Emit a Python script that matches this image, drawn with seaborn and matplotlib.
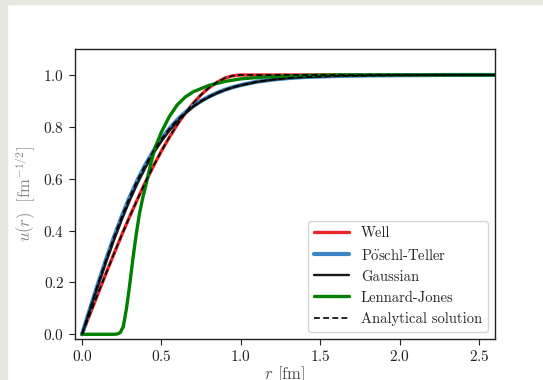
import matplotlib
matplotlib.use('Agg')
import matplotlib.pyplot as plt
import seaborn as sns
from matplotlib.patches import Rectangle

# radial grid (fm) and wave functions
r = [0.0, 0.05, 0.1, 0.15, 0.2, 0.25, 0.3, 0.35, 0.4, 0.45, 0.5, 0.55, 0.6, 0.65,
     0.7, 0.75, 0.8, 0.85, 0.9, 0.95, 1.0, 1.1, 1.2, 1.3, 1.4, 1.6, 1.8, 2.0, 2.3, 2.6]

u_well = [0.0, 0.078, 0.156, 0.233, 0.309, 0.383, 0.454, 0.522, 0.588, 0.649, 0.707,
          0.760, 0.809, 0.853, 0.891, 0.924, 0.951, 0.972, 0.988, 0.997, 1.0,
          1.0, 1.0, 1.0, 1.0, 1.0, 1.0, 1.0, 1.0, 1.0]

u_pt = [0.0, 0.098, 0.194, 0.286, 0.373, 0.454, 0.529, 0.596, 0.655, 0.707, 0.753,
        0.793, 0.827, 0.856, 0.880, 0.900, 0.917, 0.931, 0.943, 0.953, 0.961,
        0.974, 0.982, 0.988, 0.992, 0.996, 0.998, 0.999, 1.0, 1.0]

u_gauss = [0.0, 0.093, 0.186, 0.276, 0.361, 0.441, 0.515, 0.583, 0.643, 0.697, 0.744,
           0.785, 0.821, 0.851, 0.877, 0.898, 0.915, 0.930, 0.942, 0.952, 0.960,
           0.973, 0.982, 0.988, 0.992, 0.996, 0.998, 0.999, 1.0, 1.0]

r_lj = [0.0, 0.1, 0.2, 0.22, 0.24, 0.26, 0.28, 0.30, 0.32, 0.34, 0.36, 0.38, 0.40,
        0.43, 0.46, 0.50, 0.55, 0.60, 0.65, 0.70, 0.80, 0.90, 1.0, 1.1, 1.2, 1.4,
        1.6, 2.0, 2.6]
u_lj = [0.0, 0.0, 0.0, 0.001, 0.006, 0.03, 0.10, 0.19, 0.29, 0.38, 0.46, 0.52, 0.57,
        0.65, 0.72, 0.78, 0.84, 0.885, 0.915, 0.935, 0.96, 0.975, 0.985, 0.99, 0.994,
        0.998, 1.0, 1.0, 1.0]

sns.set_style('ticks')
plt.rcParams['font.family'] = ['cmr10', 'DejaVu Serif']
plt.rcParams['mathtext.fontset'] = 'cm'
plt.rcParams['axes.formatter.use_mathtext'] = True

fig = plt.figure(figsize=(5.43, 3.8), dpi=100)
ax = fig.add_axes([0.1376, 0.108, 0.774, 0.763])

sns.lineplot(x=r, y=u_well, color='#e8262a', lw=2.4, label='Well', ax=ax)
sns.lineplot(x=r, y=u_pt, color='#3d85c6', lw=3.0, label=r'P$\ddot{\rm o}$schl-Teller', ax=ax)
sns.lineplot(x=r, y=u_gauss, color='#1a1a1a', lw=1.7, label='Gaussian', ax=ax)
sns.lineplot(x=r_lj, y=u_lj, color='green', lw=2.4, label='Lennard-Jones', ax=ax)
sns.lineplot(x=r, y=u_well, color='black', lw=1.2, ls=(0, (3.5, 2)), label='Analytical solution', ax=ax)
sns.lineplot(x=r, y=u_pt, color='black', lw=1.2, ls=(0, (3.5, 2)), ax=ax)

ax.set_xlim(-0.046, 2.6)
ax.set_ylim(-0.018, 1.1)
ax.set_xticks([0.0, 0.5, 1.0, 1.5, 2.0, 2.5])
ax.set_yticks([0.0, 0.2, 0.4, 0.6, 0.8, 1.0])
ax.tick_params(labelsize=11, colors='#222222', direction='out', length=4)
for s in ax.spines.values():
    s.set_color('#222222')
    s.set_linewidth(1.0)

ax.set_xlabel(r'$r$ [fm]', fontsize=12, color='#555555', labelpad=0)
ax.set_ylabel(r'$u(r)\ \ [\mathrm{fm}^{-1/2}]$', fontsize=12, color='#8a8a8a')

ax.legend(loc='lower right', fontsize=10.5, frameon=True, fancybox=True,
          framealpha=0.8, edgecolor='#cccccc', handlelength=2.4)

# light strip around screenshot edge
fig.patches.append(Rectangle((0, 1 - 4 / 380), 1, 4 / 380, transform=fig.transFigure,
                             color='#e8e8e0', zorder=-1))
fig.patches.append(Rectangle((0, 0), 7 / 543, 1, transform=fig.transFigure,
                             color='#e8e8e0', zorder=-1))

fig.savefig('out.png', dpi=100)
